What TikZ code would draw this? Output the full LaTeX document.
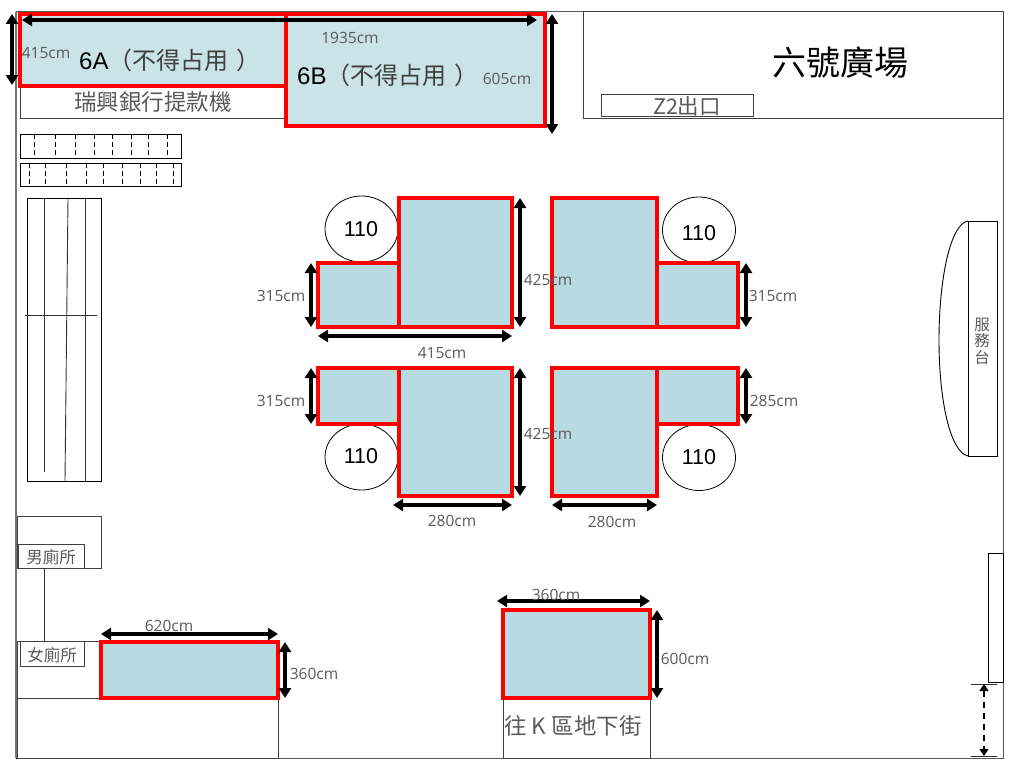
\documentclass[tikz,border=0pt]{standalone}
\usepackage{fontspec}
\setmainfont{Noto Sans CJK TC}
\newfontfamily\latinfont{Open Sans}
\newfontfamily\arialfont{Liberation Sans}
\usetikzlibrary{arrows.meta,shapes.geometric}
\definecolor{zone}{HTML}{B7DBE0}
\definecolor{zonelight}{HTML}{C9E3E6}
\definecolor{ink}{HTML}{5A5A5A}
\tikzset{
  zonebox/.style={draw=red,line width=4.4pt,fill=zone},
  plainbox/.style={draw=black!75,line width=1pt,fill=white},
  circ/.style={draw=black,line width=0.8pt,fill=white,ellipse,minimum width=73pt,minimum height=66pt,inner sep=0pt},
  dimline/.style={black,line width=3.2pt,{Triangle[length=10pt,width=12pt]}-{Triangle[length=10pt,width=12pt]}},
  dashdim/.style={black,line width=1.5pt,dash pattern=on 6pt off 5pt,{Triangle[length=7pt,width=9pt]}-{Triangle[length=7pt,width=9pt]}},
  dimtext/.style={text=ink,font=\latinfont\fontsize{15.5}{18}\selectfont,inner sep=0pt,yshift=-1pt},
  zhtext/.style={text=ink,font=\fontsize{22.5}{26}\selectfont,inner sep=0pt},
  zhsmall/.style={text=ink,font=\fontsize{16.5}{19}\selectfont,inner sep=0pt},
  bigtext/.style={text=ink!70!black,font=\fontsize{24}{30}\selectfont,inner sep=0pt,anchor=west},
  numtext/.style={text=black,font=\arialfont\fontsize{21.5}{25}\selectfont,inner sep=0pt},
  wire/.style={draw=black!80,line width=0.9pt},
  hatch/.style={draw=black,line width=0.9pt,dash pattern=on 5pt off 3pt}
}
\newcommand{\zonerect}[6][zone]{%
  \draw[zonebox,fill=#1] (#3,#4) rectangle (#5,#6);
  \coordinate (#2-nw) at (#3,#4);\coordinate (#2-se) at (#5,#6);}
\newcommand{\dimarrow}[5]{%
  \coordinate (#1-a) at (#2,#3);\coordinate (#1-b) at (#4,#5);
  \draw[dimline] (#1-a) -- (#1-b);}
\begin{document}
\begin{tikzpicture}[x=1pt,y=-1pt]
\useasboundingbox (0,0) rectangle (1024,768);
\fill[white] (0,0) rectangle (1024,768);
% outer frame
\draw[draw=black!55,line width=1.3pt] (16,12) -- (16,758);
\draw[draw=black!65,line width=1pt] (16,12) -- (1003,12) -- (1003,758) -- (16,758);
\draw[draw=black,line width=1pt] (16,758) -- (278,758);
% top strip
\draw[plainbox] (20,86) rectangle (286,118);
\node[zhtext] (atm) at (153,102) {瑞興銀行提款機};
\draw[plainbox] (583,12) rectangle (1003,118);
\node[text=black,font=\fontsize{34}{38}\selectfont,inner sep=0pt] (plaza) at (840,63) {六號廣場};
\draw[plainbox] (601,94) rectangle (753,116);
\node[zhtext,font=\fontsize{21.5}{25}\selectfont] (z2) at (687,106) {Z2出口};
% zones top
\zonerect[zonelight]{a}{20}{14}{286}{86}
\zonerect[zonelight]{b}{286}{14}{545}{126}
\node[bigtext] (la) at (79,60) {{\arialfont\color{black}6A}（不得占用\kern8pt）};
\node[bigtext] (lb) at (297,75) {{\arialfont\color{black}6B}（不得占用\kern8pt）};
\dimarrow{d1}{22}{20}{537}{20}
\dimarrow{d2}{12}{14}{12}{85}
\dimarrow{d3}{552}{14}{552}{134}
\node[dimtext] (t1) at (350,37) {1935cm};
\node[dimtext] (t2) at (46,52) {415cm};
\node[dimtext] (t3) at (507,78) {605cm};
% barriers
\draw[wire,draw=black] (20,134) rectangle (181,158);
\draw[wire,draw=black] (20,163) rectangle (181,186);
\foreach \x in {34,55,75,94,112,131,148,167}
  \draw[hatch] (\x,134) -- (\x,158);
\foreach \x in {29,45,66,86,103,122,140,156,173}
  \draw[hatch] (\x,163) -- (\x,186);
% tall rack
\draw[wire,draw=black] (27,198) rectangle (101,481);
\draw[wire] (44,198) -- (44,472);
\draw[wire] (68,198) -- (65,481);
\draw[wire] (85,198) -- (85,481);
\draw[wire] (25,315) -- (97,315);
% circles
\node[circ] (c1) at (361.5,229) {};
\node[circ] (c2) at (699,230) {};
\node[circ] (c3) at (361.5,457) {};
\node[circ] (c4) at (699,457.5) {};
\node[numtext] (n1) at (361,229) {110};
\node[numtext] (n2) at (699,233) {110};
\node[numtext] (n3) at (361,456) {110};
\node[numtext] (n4) at (699,457) {110};
% central zones
\zonerect{tl1}{318}{263}{399}{327}
\zonerect{tl2}{399}{198}{512}{327}
\zonerect{tr1}{552}{198}{657}{327}
\zonerect{tr2}{657}{263}{738}{327}
\zonerect{bl1}{318}{368}{399}{424}
\zonerect{bl2}{399}{368}{512}{496}
\zonerect{br1}{552}{368}{657}{496}
\zonerect{br2}{657}{368}{738}{424}
\dimarrow{e1}{311}{263}{311}{327}
\dimarrow{e2}{520}{198}{520}{327}
\dimarrow{e3}{318}{336}{512}{336}
\dimarrow{e4}{746}{263}{746}{327}
\dimarrow{e5}{311}{368}{311}{424}
\dimarrow{e6}{520}{368}{520}{496}
\dimarrow{e7}{746}{368}{746}{424}
\dimarrow{e8}{393}{505}{512}{505}
\dimarrow{e9}{552}{505}{657}{505}
\node[dimtext] (u1) at (281,295) {315cm};
\node[dimtext] (u2) at (548,279) {425cm};
\node[dimtext] (u3) at (442,352) {415cm};
\node[dimtext] (u4) at (773,295) {315cm};
\node[dimtext] (u5) at (281,400) {315cm};
\node[dimtext] (u6) at (548,433) {425cm};
\node[dimtext] (u7) at (774,400) {285cm};
\node[dimtext] (u8) at (452,520) {280cm};
\node[dimtext] (u9) at (612,521) {280cm};
% bottom centre
\draw[plainbox] (503,698) rectangle (650,758);
\zonerect{k}{503}{610}{650}{698}
\node[zhtext] (kt) at (573,726) {往 K 區地下街};
\dimarrow{f1}{497}{601}{650}{601}
\dimarrow{f2}{657}{610}{657}{698}
\node[dimtext] (v1) at (556,594) {360cm};
\node[dimtext] (v2) at (685,658) {600cm};
% toilets
\draw[plainbox] (17,516) rectangle (101,568);
\draw[plainbox] (18,544) rectangle (84,568);
\node[zhsmall] (men) at (51,557) {男廁所};
\draw[wire] (44,568) -- (44,641);
\draw[plainbox] (17,641) rectangle (101,698);
\draw[plainbox] (20,641) rectangle (84,666);
\node[zhsmall] (women) at (52,655) {女廁所};
\draw[plainbox] (17,698) rectangle (278,758);
\zonerect{w}{101}{642}{278}{698}
\dimarrow{g1}{101}{634}{278}{634}
\dimarrow{g2}{285}{642}{285}{698}
\node[dimtext] (w1) at (169,625) {620cm};
\node[dimtext] (w2) at (314,673) {360cm};
% service desk
\draw[wire,draw=black] (968,221) .. controls (950,224) and (939,280) .. (939,340) .. controls (939,400) and (950,452) .. (968,456);
\draw[wire,draw=black] (968,221) rectangle (997,456);
\node[zhsmall,align=center,font=\fontsize{15.5}{16.5}\selectfont] (desk) at (982,341) {服\\務\\台};
% right door
\draw[wire,draw=black] (988,553) rectangle (1003,682);
\coordinate (h1a) at (971,684);\coordinate (h1b) at (997,684);
\coordinate (h2a) at (971,756);\coordinate (h2b) at (997,756);
\draw[wire] (h1a) -- (h1b);
\draw[wire] (h2a) -- (h2b);
\coordinate (h3a) at (984,684);\coordinate (h3b) at (984,756);
\draw[dashdim] (h3a) -- (h3b);
\end{tikzpicture}
\end{document}
